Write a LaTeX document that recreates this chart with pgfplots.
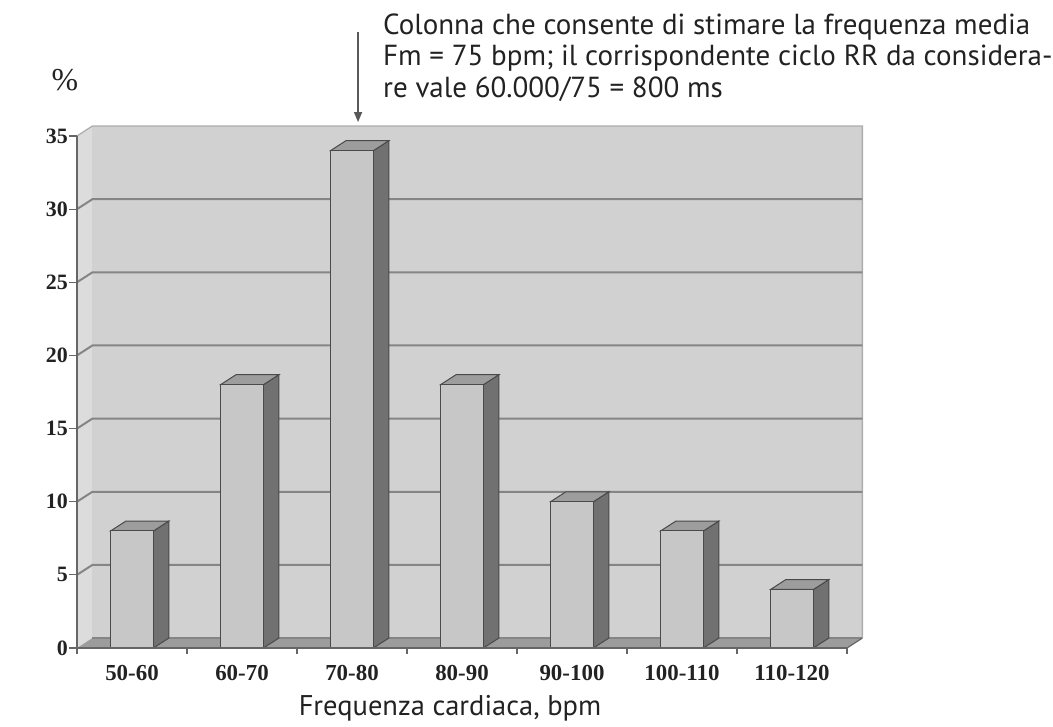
\documentclass[border=0pt]{standalone}
\usepackage{fontspec}
\setmainfont{PT Sans}
\newfontfamily\serif{Liberation Serif}
\usepackage{pgfplots}
\pgfplotsset{compat=1.18}
\usetikzlibrary{arrows.meta}
\definecolor{sidewall}{HTML}{DCDCDC}
\definecolor{backwall}{HTML}{D1D1D1}
\definecolor{floorc}{HTML}{9C9C9C}
\definecolor{gridc}{HTML}{858585}
\definecolor{barfront}{HTML}{C7C7C7}
\definecolor{barside}{HTML}{717171}
\definecolor{bartop}{HTML}{9D9D9D}
\definecolor{edgec}{HTML}{4A4A4A}
\definecolor{axisc}{HTML}{666666}
\definecolor{txt}{HTML}{222222}
\begin{document}
\begin{tikzpicture}
\def\dx{0.14}
\def\dy{0.68}
\begin{axis}[name=ax, scale only axis, width=770bp, height=512bp,
  xmin=-0.5, xmax=6.5, ymin=0, ymax=35,
  axis lines*=left, clip=false, axis on top,
  axis line style={draw=axisc, line width=1.3bp},
  every tick/.style={draw=axisc, line width=1.2bp},
  tick align=outside, major tick length=8bp,
  xtick={0,...,6},
  xticklabels={50-60,60-70,70-80,80-90,90-100,100-110,110-120},
  x tick style={draw=none},
  extra x ticks={-0.5,0.5,1.5,2.5,3.5,4.5,5.5,6.5},
  extra x tick labels={},
  extra x tick style={major tick length=6bp, x tick style={draw=axisc}},
  ytick={0,5,...,35},
  /pgf/number format/assume math mode=true,
  xticklabel style={font=\fontsize{23}{26}\serif\bfseries, text=txt, anchor=base, yshift=-24bp},
  yticklabel style={font=\fontsize{22}{24}\serif\bfseries, text=txt, anchor=east, inner sep=0pt, xshift=-1bp},
]
% walls and floor (decoration)
\fill[sidewall] (axis cs:-0.5,0) -- (axis cs:-0.5,35) -- (axis cs:-0.36,35.68) -- (axis cs:-0.36,0.68) -- cycle;
\fill[backwall] (axis cs:-0.36,0.68) rectangle (axis cs:6.64,35.68);
\draw[color=black!32, line width=1.3bp] (axis cs:-0.5,35) -- (axis cs:-0.36,35.68) -- (axis cs:6.64,35.68) -- (axis cs:6.64,0.68);
\pgfplotsinvokeforeach{5,10,15,20,25,30}{
  \draw[gridc, line width=2bp] (axis cs:-0.5,#1) -- (axis cs:-0.36,{#1+0.68}) -- (axis cs:6.64,{#1+0.68});
}
\fill[floorc] (axis cs:-0.5,0) -- (axis cs:6.5,0) -- (axis cs:6.64,0.68) -- (axis cs:-0.36,0.68) -- cycle;
\draw[gridc, line width=1.2bp] (axis cs:-0.36,0.68) -- (axis cs:6.64,0.68);
\draw[axisc, line width=1.2bp] (axis cs:6.5,0) -- (axis cs:6.64,0.68);
% bars: side and top faces
\foreach \i/\v in {0/8,1/18,2/34,3/18,4/10,5/8,6/4} {
  \pgfmathsetmacro{\xl}{\i-0.195}
  \pgfmathsetmacro{\xr}{\i+0.195}
  \pgfmathsetmacro{\xrr}{\i+0.195+\dx}
  \pgfmathsetmacro{\xll}{\i-0.195+\dx}
  \pgfmathsetmacro{\vt}{\v+\dy}
  \edef\temp{%
    \noexpand\addplot[fill=barside, draw=edgec, line width=1bp] coordinates {(\xr,0) (\xrr,\dy) (\xrr,\vt) (\xr,\v)} -- cycle;
    \noexpand\addplot[fill=bartop, draw=edgec, line width=1bp] coordinates {(\xl,\v) (\xr,\v) (\xrr,\vt) (\xll,\vt)} -- cycle;
  }\temp
}
% bars: front faces
\addplot[ybar, bar width=0.39, fill=barfront, draw=edgec, line width=1bp]
  coordinates {(0,8) (1,18) (2,34) (3,18) (4,10) (5,8) (6,4)};
% labels
\node[font=\fontsize{32}{34}\serif, text=txt] at (axis cs:-0.61,38.8) {\%};
\node[font=\fontsize{28.6}{30}\selectfont, text=txt, anchor=base] at (axis cs:2.891,-4.58) {Frequenza cardiaca, bpm};
\node[font=\fontsize{29.1}{30}\selectfont, text=txt, anchor=base west, inner sep=0pt] at (axis cs:2.282,41.97) {Colonna che consente di stimare la frequenza media};
\node[font=\fontsize{29.1}{30}\selectfont, text=txt, anchor=base west, inner sep=0pt] at (axis cs:2.282,39.85) {Fm = 75 bpm; il corrispondente ciclo RR da considera-};
\node[font=\fontsize{29.1}{30}\selectfont, text=txt, anchor=base west, inner sep=0pt] at (axis cs:2.282,37.66) {re vale 60.000/75 = 800 ms};
\draw[black!65, line width=1.4bp, -{Triangle[length=10bp,width=8bp]}] (axis cs:2.055,42.1) -- (axis cs:2.055,35.95);
\end{axis}
\pgfresetboundingbox
\path[use as bounding box] ([shift={(-77bp,-79bp)}]ax.south west) rectangle ([shift={(976bp,648bp)}]ax.south west);
\end{tikzpicture}
\end{document}
